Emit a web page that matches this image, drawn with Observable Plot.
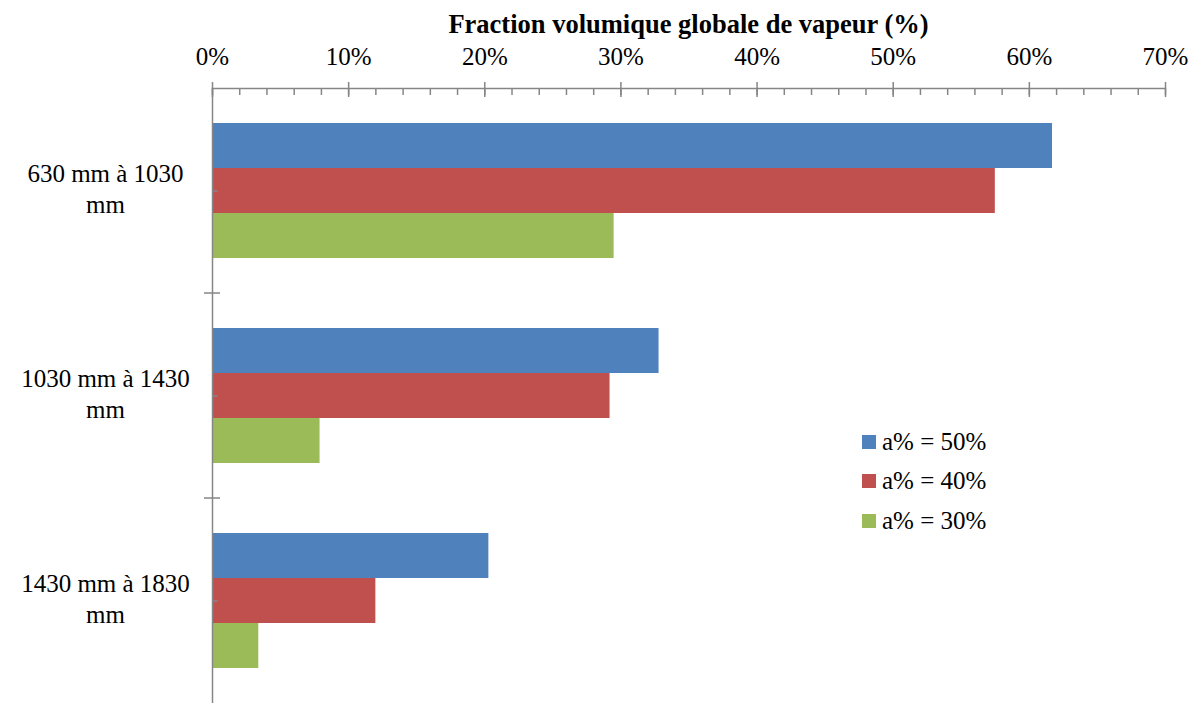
<!DOCTYPE html>
<html><head><meta charset="utf-8">
<script src="https://cdn.jsdelivr.net/npm/d3@7"></script>
<script src="https://cdn.jsdelivr.net/npm/@observablehq/plot@0.6"></script>
<style>
body{margin:0;background:#fff;font-family:"Times New Roman","Liberation Serif",Times,serif;color:#000;}
#wrap{position:relative;width:1202px;height:704px;overflow:hidden;}
#title{height:40px;box-sizing:border-box;padding-left:212px;padding-right:37px;text-align:center;font-weight:bold;font-size:26.5px;line-height:26px;padding-top:11px;white-space:nowrap;}
#legend{position:absolute;left:862px;top:422px;font-size:25px;}
.row{display:flex;align-items:center;height:39.5px;}
.sw{width:14px;height:14px;margin-right:6px;flex:none;}
svg{display:block;}
</style></head><body>
<div id="wrap"><div id="title"></div><div id="chart"></div><div id="legend"></div></div>
<script>
const categories = ["630 mm à 1030\nmm", "1030 mm à 1430\nmm", "1430 mm à 1830\nmm"];
const series = ["a% = 50%", "a% = 40%", "a% = 30%"];
const colors = ["#4F81BD", "#C0504D", "#9BBB59"];
const values50 = [61.7, 32.8, 20.3];
const values40 = [57.5, 29.2, 12.0];
const values30 = [29.5, 7.9, 3.4];
const xTicks = [0, 10, 20, 30, 40, 50, 60, 70];
const xMinorTicks = [0, 2, 4, 6, 8, 10, 12, 14, 16, 18, 20, 22, 24, 26, 28, 30, 32, 34, 36, 38, 40, 42, 44, 46, 48, 50, 52, 54, 56, 58, 60, 62, 64, 66, 68, 70];
const title = "Fraction volumique globale de vapeur (%)";

const seriesValues = [values50, values40, values30];
const data = [];
categories.forEach((c, i) => series.forEach((s, j) => data.push({category: c, series: s, value: seriesValues[j][i]})));

const gray = "#868686";
const font = '"Times New Roman","Liberation Serif",Times,serif';
const plot = Plot.plot({
  width: 1202, height: 664,
  marginTop: 47, marginLeft: 212, marginRight: 37, marginBottom: 0,
  style: {fontFamily: font, fontSize: "25px", color: "#000", background: "#fff"},
  x: {domain: [0, 70], axis: null, label: null},
  y: {domain: series, paddingInner: 0, paddingOuter: 0.76, axis: null, label: null},
  fy: {domain: categories, padding: 0, axis: null, label: null},
  color: {domain: series, range: colors},
  marks: [
    Plot.barX(data, {x: "value", y: "series", fy: "category", fill: "series"}),
    Plot.frame({anchor: "top", facetAnchor: "top", stroke: gray, strokeWidth: 1.5}),
    Plot.ruleX([0], {stroke: gray, strokeWidth: 1.5}),
    Plot.axisX({anchor: "top", ticks: xTicks, tickFormat: d => d + "%", tickSize: 0, tickPadding: 24, fill: "#000", label: null, fontFamily: font}),
    Plot.axisX({anchor: "top", ticks: xTicks, tickSize: 7, text: null, stroke: gray, strokeWidth: 1.5, label: null}),
    Plot.axisX({anchor: "top", ticks: xTicks, tickSize: -8, text: null, stroke: gray, strokeWidth: 1.5, label: null}),
    Plot.axisX({anchor: "top", ticks: xMinorTicks, tickSize: -6, text: null, stroke: gray, strokeWidth: 1.5, label: null}),
    Plot.axisFy({anchor: "left", tickSize: 0, tickPadding: 107, textAnchor: "middle", lineHeight: 1.24, dy: -3, fill: "#000", label: null, fontFamily: font}),
    Plot.axisFy({anchor: "left", tickSize: -6, text: null, stroke: gray, strokeWidth: 1.5, label: null})
  ]
});

// category boundary ticks (Excel-style crossing ticks) from the fy and x scales
const fy = plot.scale("fy"), xs = plot.scale("x");
const x0 = xs.apply(0);
const svg = d3.select(plot);
categories.slice(1).forEach(c => {
  const yy = fy.apply(c);
  svg.append("line").attr("x1", x0 - 8).attr("x2", x0 + 8).attr("y1", yy).attr("y2", yy)
    .attr("stroke", gray).attr("stroke-width", 1.5);
});

document.getElementById("title").textContent = title;
document.getElementById("chart").appendChild(plot);
const legend = d3.select("#legend");
series.forEach((s, j) => {
  const row = legend.append("div").attr("class", "row");
  row.append("div").attr("class", "sw").style("background", colors[j]);
  row.append("span").text(s);
});
</script>
</body></html>
